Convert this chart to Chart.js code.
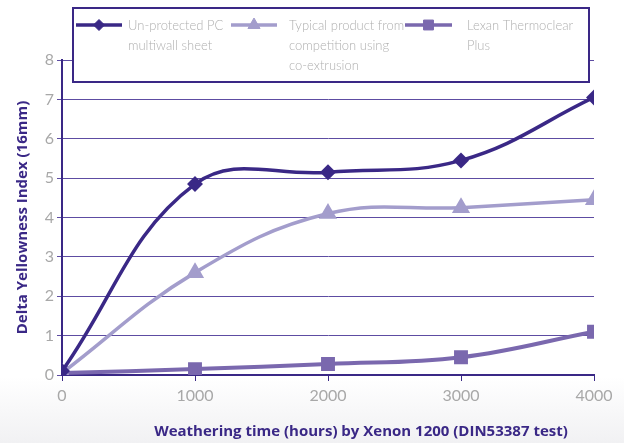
<!DOCTYPE html>
<html>
<head>
<meta charset="utf-8">
<script src="https://cdn.jsdelivr.net/npm/chart.js@4/dist/chart.umd.min.js"></script>
<style>
  html, body { margin: 0; padding: 0; }
  body { width: 624px; height: 443px; background: linear-gradient(#ffffff 0%, #ffffff 85%, #f1f1f3 100%); }
  #wrap { width: 624px; height: 443px; position: relative; }
</style>
</head>
<body>
<div id="wrap"><canvas id="chart"></canvas></div>
<script>
// Data
const hours = [0, 1000, 2000, 3000, 4000];
const unprotected = [0.1, 4.85, 5.15, 5.45, 7.05];
const competition = [0.05, 2.6, 4.1, 4.25, 4.45];
const thermoclear = [0.05, 0.15, 0.28, 0.45, 1.1];
const yTicks = [0, 1, 2, 3, 4, 5, 6, 7, 8];

const seriesNames = [
  ['Un-protected PC', 'multiwall sheet'],
  ['Typical product from', 'competition using', 'co-extrusion'],
  ['Lexan Thermoclear', 'Plus']
];
const xTitle = 'Weathering time (hours) by Xenon 1200 (DIN53387 test)';

const dark = '#3a2886';
const light = '#a39dcc';
const mid = '#7a68ae';
const tickGray = '#a8a8a8';

const toPoints = vals => hours.map((h, i) => ({ x: h, y: vals[i] }));

// Legend box drawn on top of the plot area, plus the x axis title
const boxLegend = {
  id: 'boxLegend',
  afterDraw(chart) {
    const ctx = chart.ctx;
    ctx.save();
    ctx.fillStyle = '#fff';
    ctx.fillRect(73, 8, 516, 74);
    ctx.strokeStyle = dark;
    ctx.lineWidth = 2;
    ctx.strokeRect(73, 8, 516, 74);

    const items = [
      { x0: 76, x1: 122, tx: 128 },
      { x0: 231, x1: 277, tx: 289 },
      { x0: 405, x1: 452, tx: 467 }
    ];
    chart.data.datasets.forEach((ds, i) => {
      const it = items[i];
      const y = 25;
      ctx.strokeStyle = ds.borderColor;
      ctx.fillStyle = ds.borderColor;
      ctx.lineWidth = 3.5;
      ctx.beginPath();
      ctx.moveTo(it.x0, y);
      ctx.lineTo(it.x1, y);
      ctx.stroke();
      ctx.lineWidth = 1;
      Chart.helpers.drawPoint(ctx, {
        pointStyle: ds.pointStyle,
        radius: ds.pointRadius,
        rotation: 0,
        borderWidth: 1
      }, (it.x0 + it.x1) / 2, y);
      ctx.fillStyle = '#b0b0b0';
      ctx.font = '300 13px Lato';
      ctx.textBaseline = 'middle';
      seriesNames[i].forEach((line, j) => {
        ctx.fillText(line, it.tx, y + 1 + j * 20);
      });
    });

    ctx.fillStyle = dark;
    ctx.font = 'bold 15px "Open Sans"';
    ctx.textAlign = 'center';
    ctx.textBaseline = 'middle';
    ctx.fillText(xTitle, 361, 432);
    ctx.restore();
  }
};

new Chart(document.getElementById('chart'), {
  type: 'line',
  data: {
    datasets: [
      {
        label: seriesNames[0].join(' '),
        data: toPoints(unprotected),
        borderColor: dark,
        backgroundColor: dark,
        borderWidth: 3.5,
        pointStyle: 'rectRot',
        pointRadius: 5.5,
        tension: 0.4
      },
      {
        label: seriesNames[1].join(' '),
        data: toPoints(competition),
        borderColor: light,
        backgroundColor: light,
        borderWidth: 3.5,
        pointStyle: 'triangle',
        pointRadius: 7,
        tension: 0.4
      },
      {
        label: seriesNames[2].join(' '),
        data: toPoints(thermoclear),
        borderColor: mid,
        backgroundColor: mid,
        borderWidth: 4,
        pointStyle: 'rect',
        pointRadius: 7,
        tension: 0.4
      }
    ]
  },
  options: {
    responsive: true,
    maintainAspectRatio: false,
    animation: false,
    layout: { padding: { top: 60, right: 30, left: 10, bottom: 0 } },
    plugins: {
      legend: { display: false },
      tooltip: { enabled: false }
    },
    scales: {
      x: {
        type: 'linear',
        min: 0,
        max: 4000,
        afterFit: s => { s.height = 68; },
        afterBuildTicks: s => { s.ticks = hours.map(v => ({ value: v })); },
        border: { color: dark, width: 2 },
        grid: { drawOnChartArea: false, color: dark, tickLength: 6, lineWidth: 1 },
        ticks: {
          color: tickGray,
          font: { family: 'Lato', size: 16 },
          padding: 5,
          maxRotation: 0,
          callback: v => String(v)
        }
      },
      y: {
        min: 0,
        max: 8,
        afterFit: s => { s.width = 52; },
        afterBuildTicks: s => { s.ticks = yTicks.map(v => ({ value: v })); },
        border: { color: dark, width: 2 },
        grid: { color: '#5d4ca2', lineWidth: 1, tickLength: 5 },
        ticks: { color: tickGray, font: { family: 'Lato', size: 16 }, padding: 3 },
        title: {
          display: true,
          text: 'Delta Yellowness Index (16mm)',
          color: dark,
          font: { family: 'Open Sans', size: 15, weight: 'bold' },
          padding: { top: 4, bottom: 4 }
        }
      }
    }
  },
  plugins: [boxLegend]
});
</script>
</body>
</html>
